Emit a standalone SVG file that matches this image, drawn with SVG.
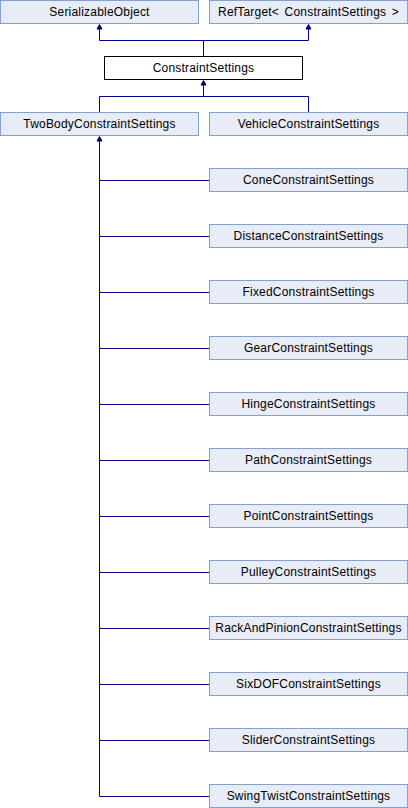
<svg xmlns="http://www.w3.org/2000/svg" width="408" height="808" viewBox="0 0 408 808">
<style>
.n rect{fill:#E8ECF6;stroke:#84A0D0;stroke-width:1}
.m rect{fill:#FFFFFF;stroke:#000000;stroke-width:1}
text{font-family:"Liberation Sans",Arial,sans-serif;font-size:12px;letter-spacing:0.2px;fill:#000;text-anchor:middle}
.c path{fill:none;stroke:#000090;stroke-width:1}
.c polygon{fill:#000090;stroke:#000090;stroke-width:1}
</style>
<rect width="408" height="808" fill="#FFFFFF"/>
<g class="c" id="connectors">
<path d="M99.5,29 V40.5 H308.5 V29 M203.5,40.5 V56"/>
<polygon points="99.5,24.5 97,29 102,29"/>
<polygon points="308.5,24.5 306,29 311,29"/>
<path d="M203.5,85 V96.5 M99.5,112 V96.5 H308.5 V112"/>
<polygon points="203.5,80.5 201,85 206,85"/>
<path d="M99.5,141 V796.5 H209"/>
<polygon points="99.5,136.5 97,141 102,141"/>
<path d="M99.5,180.5 H209 M99.5,236.5 H209 M99.5,292.5 H209 M99.5,348.5 H209 M99.5,404.5 H209 M99.5,460.5 H209 M99.5,516.5 H209 M99.5,572.5 H209 M99.5,628.5 H209 M99.5,684.5 H209 M99.5,740.5 H209"/>
</g>
<g class="n" id="SerializableObject"><rect x="0.5" y="0.5" width="198" height="23"/><text x="99.5" y="16">SerializableObject</text></g>
<g class="n" id="RefTarget"><rect x="209.5" y="0.5" width="198" height="23"/><text x="308.5" y="16" style="word-spacing:2px">RefTarget&lt; ConstraintSettings &gt;</text></g>
<g class="m" id="ConstraintSettings"><rect x="104.5" y="56.5" width="198" height="23"/><text x="203.5" y="72">ConstraintSettings</text></g>
<g class="n" id="TwoBodyConstraintSettings"><rect x="0.5" y="112.5" width="198" height="23"/><text x="99.5" y="128">TwoBodyConstraintSettings</text></g>
<g class="n" id="VehicleConstraintSettings"><rect x="209.5" y="112.5" width="198" height="23"/><text x="308.5" y="128">VehicleConstraintSettings</text></g>
<g class="n" id="ConeConstraintSettings"><rect x="209.5" y="168.5" width="198" height="23"/><text x="308.5" y="184">ConeConstraintSettings</text></g>
<g class="n" id="DistanceConstraintSettings"><rect x="209.5" y="224.5" width="198" height="23"/><text x="308.5" y="240">DistanceConstraintSettings</text></g>
<g class="n" id="FixedConstraintSettings"><rect x="209.5" y="280.5" width="198" height="23"/><text x="308.5" y="296">FixedConstraintSettings</text></g>
<g class="n" id="GearConstraintSettings"><rect x="209.5" y="336.5" width="198" height="23"/><text x="308.5" y="352">GearConstraintSettings</text></g>
<g class="n" id="HingeConstraintSettings"><rect x="209.5" y="392.5" width="198" height="23"/><text x="308.5" y="408">HingeConstraintSettings</text></g>
<g class="n" id="PathConstraintSettings"><rect x="209.5" y="448.5" width="198" height="23"/><text x="308.5" y="464">PathConstraintSettings</text></g>
<g class="n" id="PointConstraintSettings"><rect x="209.5" y="504.5" width="198" height="23"/><text x="308.5" y="520">PointConstraintSettings</text></g>
<g class="n" id="PulleyConstraintSettings"><rect x="209.5" y="560.5" width="198" height="23"/><text x="308.5" y="576">PulleyConstraintSettings</text></g>
<g class="n" id="RackAndPinionConstraintSettings"><rect x="209.5" y="616.5" width="198" height="23"/><text x="308.5" y="632">RackAndPinionConstraintSettings</text></g>
<g class="n" id="SixDOFConstraintSettings"><rect x="209.5" y="672.5" width="198" height="23"/><text x="308.5" y="688">SixDOFConstraintSettings</text></g>
<g class="n" id="SliderConstraintSettings"><rect x="209.5" y="728.5" width="198" height="23"/><text x="308.5" y="744">SliderConstraintSettings</text></g>
<g class="n" id="SwingTwistConstraintSettings"><rect x="209.5" y="784.5" width="198" height="23"/><text x="308.5" y="800">SwingTwistConstraintSettings</text></g>
</svg>
